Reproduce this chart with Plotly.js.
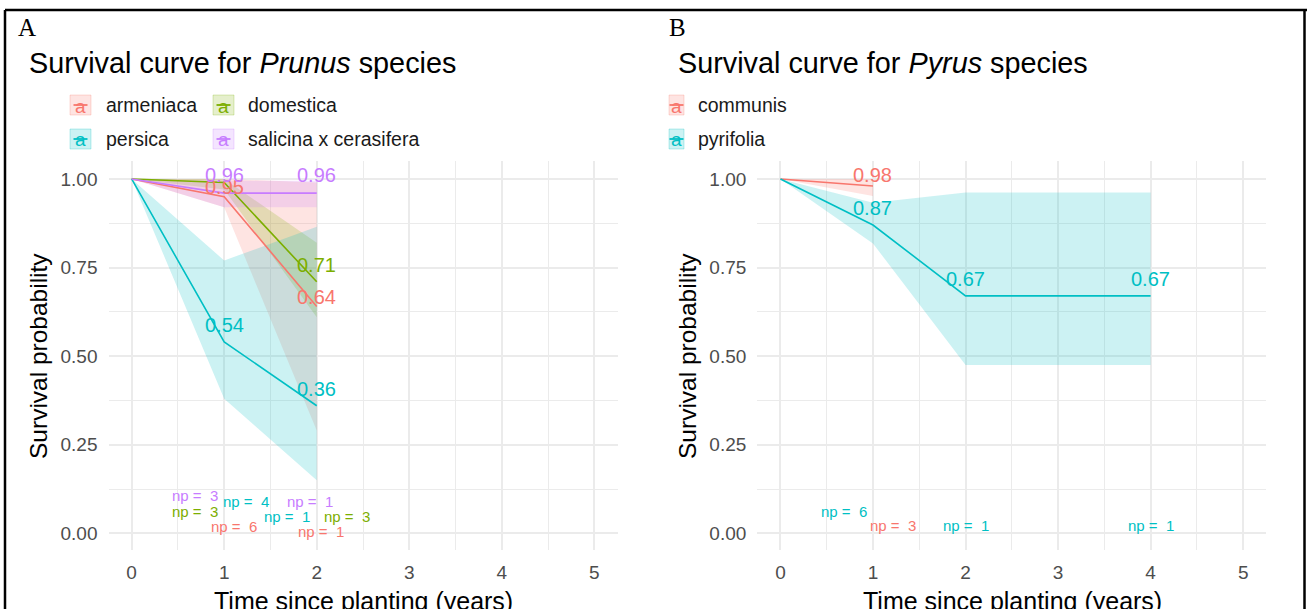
<!DOCTYPE html>
<html>
<head>
<meta charset="utf-8">
<script src="https://cdn.plot.ly/plotly-3.0.1.min.js"></script>
<style>
  html, body { margin: 0; padding: 0; background: #ffffff; }
  #chart { width: 1307px; height: 609px; }
</style>
</head>
<body>
<div id="chart"></div>
<script>
// ---- Prunus survival estimates (time in years since planting) ----
const prunusTime = [0, 1, 2];
const prunusNames = ["armeniaca", "domestica", "persica", "salicina x cerasifera"];
const armeniacaSurv  = [1, 0.95, 0.64];
const armeniacaLower = [1, 0.92, 0.29];
const armeniacaUpper = [1, 1.0, 0.99];
const domesticaSurv  = [1, 0.99, 0.71];
const domesticaLower = [1, 0.97, 0.61];
const domesticaUpper = [1, 1.0, 0.82];
const persicaSurv    = [1, 0.54, 0.36];
const persicaLower   = [1, 0.38, 0.15];
const persicaUpper   = [1, 0.77, 0.865];
const salicinaSurv   = [1, 0.96, 0.96];
const salicinaLower  = [1, 0.92, 0.92];
const salicinaUpper  = [1, 0.995, 0.995];

// ---- Pyrus survival estimates ----
const pyrusNames = ["communis", "pyrifolia"];
const communisTime   = [0, 1];
const communisSurv   = [1, 0.98];
const communisLower  = [1, 0.952];
const communisUpper  = [1, 1.0];
const pyrifoliaTime  = [0, 1, 2, 4];
const pyrifoliaSurv  = [1, 0.87, 0.67, 0.67];
const pyrifoliaLower = [1, 0.818, 0.475, 0.475];
const pyrifoliaUpper = [1, 0.933, 0.962, 0.962];

// ---- number of plants lost ("np") labels: value, time, height ----
const prunusNpValue  = [3, 3, 6, 4, 1, 1, 3, 1];
const prunusNpSeries = [3, 1, 0, 2, 3, 2, 1, 0];
const prunusNpTime   = [0.683, 0.683, 1.104, 1.233, 1.924, 1.676, 2.324, 2.043];
const prunusNpLevel  = [0.108, 0.061, 0.019, 0.089, 0.089, 0.047, 0.047, 0.005];
const pyrusNpValue   = [6, 3, 1, 1];
const pyrusNpSeries  = [1, 0, 1, 1];
const pyrusNpTime    = [0.685, 1.212, 2.003, 4.0];
const pyrusNpLevel   = [0.061, 0.021, 0.021, 0.021];

// ---- axis ticks ----
const xTicks = [0, 1, 2, 3, 4, 5];
const yTicks = [0, 0.25, 0.5, 0.75, 1];

const hue4 = ["#F8766D", "#7CAE00", "#00BFC4", "#C77CFF"];
const hue2 = ["#F8766D", "#00BFC4"];

const W = 1307, H = 609;
const px = v => v / W;
const py = v => 1 - v / H;

function rgba(hex, a) {
  const n = parseInt(hex.slice(1), 16);
  return `rgba(${(n >> 16) & 255},${(n >> 8) & 255},${n & 255},${a})`;
}

const traces = [];
const annotations = [];
const shapes = [];

function ribbon(t, lo, hi, color, xa, ya) {
  traces.push({
    x: t.concat(t.slice().reverse()),
    y: hi.concat(lo.slice().reverse()),
    xaxis: xa, yaxis: ya,
    type: "scatter", mode: "lines", fill: "toself",
    fillcolor: rgba(color, 0.2), line: { width: 0 },
    hoverinfo: "skip", showlegend: false
  });
}
function curve(t, s, color, xa, ya) {
  traces.push({
    x: t, y: s, xaxis: xa, yaxis: ya,
    type: "scatter", mode: "lines",
    line: { color: color, width: 1.6 },
    showlegend: false
  });
}
function valueLabels(t, s, color, xr, yr, shift, from) {
  for (let i = from; i < t.length; i++) {
    annotations.push({
      x: t[i], y: s[i], xref: xr, yref: yr, yshift: shift,
      text: s[i].toFixed(2), showarrow: false,
      font: { family: "Liberation Sans, Arial, sans-serif", size: 20, color: color },
      xanchor: "center", yanchor: "middle"
    });
  }
}
function npLabels(vals, ser, t, lv, cols, xr, yr) {
  for (let i = 0; i < vals.length; i++) {
    annotations.push({
      x: t[i], y: lv[i], xref: xr, yref: yr,
      text: "np =  " + vals[i], showarrow: false,
      font: { family: "Liberation Sans, Arial, sans-serif", size: 15, color: cols[ser[i]] },
      xanchor: "center", yanchor: "middle"
    });
  }
}

// Panel A ribbons, then lines
const prunusSets = [
  [armeniacaSurv, armeniacaLower, armeniacaUpper],
  [domesticaSurv, domesticaLower, domesticaUpper],
  [persicaSurv, persicaLower, persicaUpper],
  [salicinaSurv, salicinaLower, salicinaUpper]
];
prunusSets.forEach((d, i) => ribbon(prunusTime, d[1], d[2], hue4[i], "x", "y"));
prunusSets.forEach((d, i) => curve(prunusTime, d[0], hue4[i], "x", "y"));

// Panel B ribbons, then lines
ribbon(communisTime, communisLower, communisUpper, hue2[0], "x2", "y2");
ribbon(pyrifoliaTime, pyrifoliaLower, pyrifoliaUpper, hue2[1], "x2", "y2");
curve(communisTime, communisSurv, hue2[0], "x2", "y2");
curve(pyrifoliaTime, pyrifoliaSurv, hue2[1], "x2", "y2");

// survival values printed at each time point
valueLabels(prunusTime, domesticaSurv, hue4[1], "x", "y", 17, 2);
valueLabels(prunusTime, persicaSurv, hue4[2], "x", "y", 17, 1);
valueLabels(prunusTime, armeniacaSurv, hue4[0], "x", "y", 10, 1);
valueLabels(prunusTime, salicinaSurv, hue4[3], "x", "y", 18, 1);
valueLabels(communisTime, communisSurv, hue2[0], "x2", "y2", 11, 1);
valueLabels(pyrifoliaTime, pyrifoliaSurv, hue2[1], "x2", "y2", 17, 1);

npLabels(prunusNpValue, prunusNpSeries, prunusNpTime, prunusNpLevel, hue4, "x", "y");
npLabels(pyrusNpValue, pyrusNpSeries, pyrusNpTime, pyrusNpLevel, hue2, "x2", "y2");

// panel letters and titles
const sans = "Liberation Sans, Arial, sans-serif";
[["A", 27], ["B", 677]].forEach(([t, x]) => annotations.push({
  xref: "paper", yref: "paper", x: px(x), y: py(28), text: t, showarrow: false,
  xanchor: "center", yanchor: "middle",
  font: { family: "Liberation Serif, Times New Roman, serif", size: 25, color: "#000" }
}));
[["Survival curve for <i>Prunus</i> species", 27], ["Survival curve for <i>Pyrus</i> species", 676]].forEach(([t, x]) => annotations.push({
  xref: "paper", yref: "paper", x: px(x), y: py(63), text: t, showarrow: false,
  xanchor: "left", yanchor: "middle", font: { family: sans, size: 28.8, color: "#000" }
}));

// axis titles
[[363, 39], [1012, 688]].forEach(([cx, ty]) => {
  annotations.push({
    xref: "paper", yref: "paper", x: px(cx), y: py(601), text: "Time since planting (years)",
    showarrow: false, xanchor: "center", yanchor: "middle",
    font: { family: sans, size: 25, color: "#000" }
  });
  annotations.push({
    xref: "paper", yref: "paper", x: px(ty), y: py(356), text: "Survival probability",
    showarrow: false, xanchor: "center", yanchor: "middle", textangle: -90,
    font: { family: sans, size: 24.5, color: "#000" }
  });
});

// legend keys: tinted square, coloured "a" with a stroke through it
function legendKey(name, color, bx0, bx1, cy, tx) {
  shapes.push({
    type: "rect", xref: "paper", yref: "paper",
    x0: px(bx0), x1: px(bx1), y0: py(cy + 10), y1: py(cy - 10),
    fillcolor: rgba(color, 0.2), line: { color: rgba(color, 0.25), width: 1 }
  });
  const mid = (bx0 + bx1) / 2;
  annotations.push({
    xref: "paper", yref: "paper", x: px(mid), y: py(cy + 1), text: "a", showarrow: false,
    xanchor: "center", yanchor: "middle", font: { family: sans, size: 19, color: color }
  });
  shapes.push({
    type: "line", xref: "paper", yref: "paper",
    x0: px(mid - 7), x1: px(mid + 7), y0: py(cy), y1: py(cy),
    line: { color: color, width: 1.8 }
  });
  annotations.push({
    xref: "paper", yref: "paper", x: px(tx), y: py(cy), text: name, showarrow: false,
    xanchor: "left", yanchor: "middle", font: { family: sans, size: 19.5, color: "#1a1a1a" }
  });
}
legendKey(prunusNames[0], hue4[0], 70, 91, 105, 104);
legendKey(prunusNames[1], hue4[1], 213, 234, 105, 246);
legendKey(prunusNames[2], hue4[2], 70, 91, 139, 104);
legendKey(prunusNames[3], hue4[3], 213, 234, 139, 246);
legendKey(pyrusNames[0], hue2[0], 669, 684, 105, 696);
legendKey(pyrusNames[1], hue2[1], 669, 684, 139, 696);

// outer frame
[[5, 10, 1307, 10], [5, 10, 5, 609], [1304.5, 10, 1304.5, 609]].forEach(([a, b, c, d]) => shapes.push({
  type: "line", xref: "paper", yref: "paper",
  x0: px(a), y0: py(b), x1: px(c), y1: py(d), line: { color: "#000", width: 2.5 }
}));

function xAxis(domain) {
  return {
    domain: domain, range: [-0.25, 5.25], tickvals: xTicks, ticktext: xTicks.map(String),
    showgrid: true, gridcolor: "#EBEBEB", gridwidth: 2, zeroline: false, showline: false,
    ticks: "", ticklabelstandoff: 9,
    minor: { dtick: 0.5, tick0: 0, showgrid: true, gridcolor: "#EBEBEB", gridwidth: 1 },
    tickfont: { family: sans, size: 19, color: "#4D4D4D" }, fixedrange: true
  };
}
function yAxis(domain, anchor) {
  return {
    domain: domain, anchor: anchor, range: [-0.0471, 1.0516], tickvals: yTicks,
    ticktext: yTicks.map(v => v.toFixed(2)),
    showgrid: true, gridcolor: "#EBEBEB", gridwidth: 2, zeroline: false, showline: false,
    ticks: "", ticklabelstandoff: 10,
    minor: { dtick: 0.125, tick0: 0, showgrid: true, gridcolor: "#EBEBEB", gridwidth: 1 },
    tickfont: { family: sans, size: 19, color: "#4D4D4D" }, fixedrange: true
  };
}

const yDom = [py(550), py(160.7)];
const layout = {
  width: W, height: H,
  margin: { l: 0, r: 0, t: 0, b: 0 },
  paper_bgcolor: "#ffffff", plot_bgcolor: "#ffffff",
  showlegend: false,
  xaxis: Object.assign(xAxis([px(108.5), px(617.5)]), { anchor: "y" }),
  yaxis: yAxis(yDom, "x"),
  xaxis2: Object.assign(xAxis([px(757.3), px(1266.3)]), { anchor: "y2" }),
  yaxis2: yAxis(yDom, "x2"),
  annotations: annotations,
  shapes: shapes
};

Plotly.newPlot("chart", traces, layout, { staticPlot: true, displayModeBar: false });
</script>
</body>
</html>
